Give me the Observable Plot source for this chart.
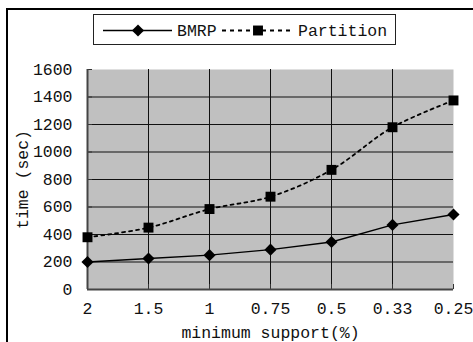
<!DOCTYPE html>
<html>
<head>
<meta charset="utf-8">
<script src="https://cdn.jsdelivr.net/npm/d3@7"></script>
<script src="https://cdn.jsdelivr.net/npm/@observablehq/plot@0.6"></script>
<style>
  html, body { margin: 0; padding: 0; background: #fff; }
  #wrap { position: relative; width: 473px; height: 342px; overflow: hidden; }
  #outer { position: absolute; left: 6px; top: 8px; width: 600px; height: 500px;
           border-left: 2px solid #000; border-top: 2px solid #000; box-sizing: border-box; }
  #chart { position: absolute; left: 0; top: 0; }
  #legend { position: absolute; left: 93px; top: 14px; width: 303px; height: 31px;
            border: 1px solid #222; background: #fff; box-sizing: border-box; }
</style>
</head>
<body>
<div id="wrap">
  <div id="outer"></div>
  <div id="chart"></div>
  <div id="legend"></div>
</div>
<script>
const categories = ["2", "1.5", "1", "0.75", "0.5", "0.33", "0.25"];
const bmrp = [200, 225, 250, 290, 345, 470, 545];
const partition = [380, 450, 585, 675, 870, 1180, 1375];
const yTicks = [0, 200, 400, 600, 800, 1000, 1200, 1400, 1600];
const seriesNames = ["BMRP", "Partition"];

const FONT = "'Liberation Mono', 'DejaVu Sans Mono', monospace";

const bData = categories.map((c, i) => ({x: c, y: bmrp[i]}));
const pData = categories.map((c, i) => ({x: c, y: partition[i]}));

const diamond = {
  draw(ctx, size) {
    const h = Math.sqrt(size / Math.PI) * 1.1;
    ctx.moveTo(0, -h); ctx.lineTo(h, 0); ctx.lineTo(0, h); ctx.lineTo(-h, 0); ctx.closePath();
  }
};

const chart = Plot.plot({
  width: 473,
  height: 342,
  marginLeft: 87,
  marginRight: 20,
  marginTop: 69,
  marginBottom: 53,
  style: {fontFamily: FONT, fontSize: "16.5px", color: "#111", background: "transparent", overflow: "visible"},
  x: {type: "point", domain: categories, padding: 0},
  y: {domain: [0, 1600]},
  marks: [
    Plot.frame({fill: "#c0c0c0", stroke: null}),
    Plot.ruleY(yTicks.filter(d => d > 0 && d < 1600), {stroke: "#111", strokeWidth: 1}),
    Plot.ruleX(categories.slice(1, -1), {stroke: "#111", strokeWidth: 1}),
    Plot.axisY({ticks: yTicks, tickFormat: d => String(d), tickSize: -5, tickPadding: 20, stroke: "#333",
                label: "time (sec)", labelAnchor: "center", labelArrow: "none", labelOffset: 71}),
    Plot.axisX({tickSize: -5, tickPadding: 18, stroke: "#333",
                label: "minimum support(%)", labelAnchor: "center", labelArrow: "none", labelOffset: 48}),
    Plot.ruleY([0], {stroke: "#444", strokeWidth: 2}),
    Plot.ruleX([categories[0]], {stroke: "#444", strokeWidth: 2}),
    Plot.line(pData, {x: "x", y: "y", stroke: "#000", strokeWidth: 1.8, strokeDasharray: "3,4", curve: "catmull-rom"}),
    Plot.line(bData, {x: "x", y: "y", stroke: "#000", strokeWidth: 1.5}),
    Plot.dot(pData, {x: "x", y: "y", symbol: "square", r: 5.6, fill: "#000", stroke: "none"}),
    Plot.dot(bData, {x: "x", y: "y", symbol: diamond, r: 5.5, fill: "#000", stroke: "none"})
  ]
});
document.getElementById("chart").appendChild(chart);

// Legend
const lg = d3.select("#legend").append("svg").attr("width", 301).attr("height", 29)
  .style("display", "block");
const cy = 15.5;
lg.append("line").attr("x1", 9).attr("x2", 78).attr("y1", cy).attr("y2", cy)
  .attr("stroke", "#000").attr("stroke-width", 1.5);
lg.append("path").attr("transform", `translate(44,${cy})`)
  .attr("d", d3.symbol(diamond, Math.PI * 5.5 * 5.5)()).attr("fill", "#000");
lg.append("text").attr("x", 83).attr("y", cy).attr("dy", "0.35em")
  .style("font-family", FONT).style("font-size", "16.5px").attr("fill", "#111").text(seriesNames[0]);
lg.append("line").attr("x1", 128).attr("x2", 197).attr("y1", cy).attr("y2", cy)
  .attr("stroke", "#000").attr("stroke-width", 1.8).attr("stroke-dasharray", "4,4");
lg.append("path").attr("transform", `translate(164,${cy})`)
  .attr("d", d3.symbol(d3.symbolSquare, Math.PI * 5.6 * 5.6)()).attr("fill", "#000");
lg.append("text").attr("x", 204).attr("y", cy).attr("dy", "0.35em")
  .style("font-family", FONT).style("font-size", "16.5px").attr("fill", "#111").text(seriesNames[1]);
</script>
</body>
</html>
